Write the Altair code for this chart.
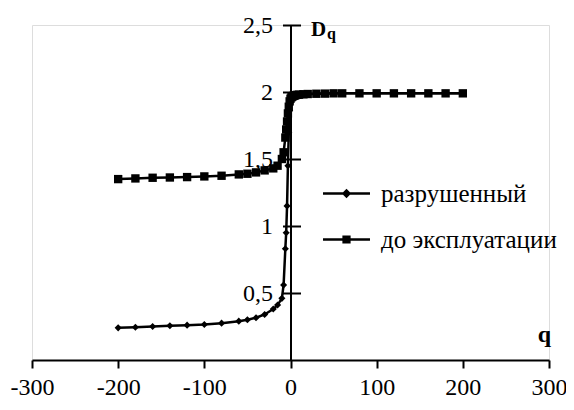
import altair as alt
import pandas as pd

# ---- data ----
q_values = [-200, -180, -160, -140, -120, -100, -80, -60, -50, -40, -30, -20, -15, -10,
            -8, -6, -5, -4, -3, -2, -1, 0, 1, 2, 3, 4, 5, 6, 8, 10, 15, 20, 30, 40,
            50, 60, 80, 100, 120, 140, 160, 180, 200]
destroyed = [0.24, 0.245, 0.25, 0.255, 0.26, 0.265, 0.275, 0.29, 0.30, 0.315, 0.34, 0.38,
             0.41, 0.46, 0.56, 0.83, 0.95, 1.15, 1.45, 1.70, 1.86, 1.92, 1.95, 1.96,
             1.965, 1.97, 1.972, 1.975, 1.978, 1.98, 1.982, 1.985, 1.987, 1.988, 1.99,
             1.99, 1.99, 1.99, 1.99, 1.99, 1.99, 1.99, 1.99]
before_use = [1.35, 1.355, 1.36, 1.362, 1.365, 1.37, 1.375, 1.385, 1.39, 1.40, 1.415,
              1.43, 1.45, 1.50, 1.55, 1.66, 1.72, 1.78, 1.84, 1.89, 1.93, 1.95, 1.96,
              1.965, 1.97, 1.972, 1.975, 1.977, 1.979, 1.98, 1.983, 1.985, 1.987, 1.988,
              1.99, 1.99, 1.99, 1.99, 1.99, 1.99, 1.99, 1.99, 1.99]
series_names = ["разрушенный", "до эксплуатации"]
x_ticks = [-300, -200, -100, 0, 100, 200, 300]
y_ticks = [0.5, 1, 1.5, 2, 2.5]

rows = []
for name, vals in zip(series_names, [destroyed, before_use]):
    for qq, v in zip(q_values, vals):
        rows.append({"q": qq, "D": v, "series": name})
df = pd.DataFrame(rows)

# legend helper rows (placed outside the x domain and clipped away)
legend_df = pd.DataFrame({"q": [1000, 1000], "D": [1, 1], "series": series_names})

W, H = 517, 335
FONT = "'Liberation Serif', 'Times New Roman', 'DejaVu Serif', serif"
OFF = -W / 2

xscale = alt.Scale(domain=[-300, 300], nice=False, zero=False)
yscale = alt.Scale(domain=[0, 2.5], nice=False, zero=False)

x_enc = alt.X("q:Q", scale=xscale, axis=alt.Axis(
    values=x_ticks, labelExpr="toString(datum.value)",
    title="q", titleX=W - 5, titleY=-19, titleAlign="center",
    titleBaseline="alphabetic", titleFontWeight="bold", titleFontSize=24, titleFont=FONT,
    titleColor="black", labelFont=FONT, labelFontSize=24, labelColor="black",
    labelPadding=7, tickSize=8, tickWidth=2, tickColor="black", domainWidth=2,
    domainColor="black", grid=False, labelFlush=False, labelOverlap=False))

y_left = alt.Y("D:Q", scale=yscale, axis=alt.Axis(
    orient="left", offset=OFF, values=y_ticks,
    labelExpr="replace(toString(datum.value), '.', ',')", title="D", titleAngle=0,
    titleX=20, titleY=10, titleAlign="left", titleBaseline="alphabetic",
    titleFontWeight="bold", titleFontSize=21, titleFont=FONT, titleColor="black",
    labelFont=FONT, labelFontSize=24, labelColor="black", labelPadding=10,
    tickSize=8, tickWidth=2, tickColor="black", domainWidth=2, domainColor="black",
    grid=False))

y_right = alt.Y("D:Q", scale=yscale, axis=alt.Axis(
    orient="right", offset=OFF, values=y_ticks, labels=False, domain=False,
    title="q", titleAngle=0, titleX=36, titleY=13, titleAlign="left",
    titleBaseline="alphabetic", titleFontWeight="bold", titleFontSize=16,
    titleFont=FONT, titleColor="black", tickSize=10, tickWidth=2, tickColor="black",
    grid=False))

y_none = alt.Y("D:Q", scale=yscale, axis=None)

base = alt.Chart(df)

lines = base.mark_line(color="black", strokeWidth=2.5).encode(
    x=x_enc, y=y_left, detail="series:N")

diamonds = base.transform_filter(alt.datum.series == series_names[0]).mark_point(
    shape="diamond", filled=True, color="black", size=50, opacity=1).encode(
    x=alt.X("q:Q", scale=xscale), y=y_none)

squares = base.transform_filter(alt.datum.series == series_names[1]).mark_point(
    shape="square", filled=True, color="black", size=70, opacity=1).encode(
    x=alt.X("q:Q", scale=xscale), y=y_none)

# legend symbols: a short line (thin filled bar) with the series marker in its middle
diamond_path = "M-2,-0.1H2V0.1H-2ZM0,-0.4L0.4,0L0,0.4L-0.4,0Z"
square_path = "M-2,-0.1H2V0.1H-2ZM-0.35,-0.35H0.35V0.35H-0.35Z"

legend_layer = alt.Chart(legend_df).mark_point(
    filled=True, color="black", clip=True, opacity=1).encode(
    x=alt.X("q:Q", scale=xscale),
    y=y_right,
    shape=alt.Shape("series:N", sort=series_names,
                    scale=alt.Scale(domain=series_names, range=[diamond_path, square_path]),
                    legend=alt.Legend(
                        title=None, orient="none", legendX=302, legendY=156,
                        labelFont=FONT, labelFontSize=25, labelColor="black",
                        labelOffset=22, symbolSize=552, symbolFillColor="black",
                        symbolStrokeWidth=0, symbolOpacity=1,
                        rowPadding=20, padding=0, labelLimit=400)))

chart = alt.layer(lines, diamonds, squares, legend_layer).resolve_axis(
    y="independent").properties(
    width=W, height=H,
    autosize=alt.AutoSizeParams(type="none"),
    padding={"left": 24, "top": 17, "right": 17, "bottom": 42},
).configure_view(stroke=None).configure(background="white", font=FONT)

chart.save("out.html", embed_options={"renderer": "svg", "actions": False})
